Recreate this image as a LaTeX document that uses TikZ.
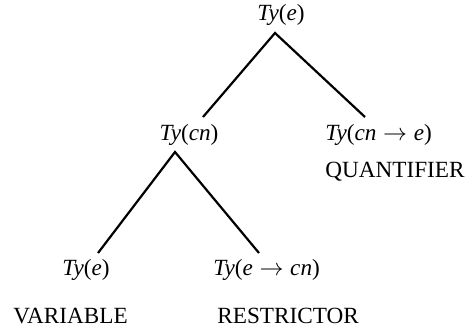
\documentclass[tikz,border=0pt]{standalone}
\usepackage{fontspec}
\setmainfont{Liberation Serif}
\usetikzlibrary{positioning}
\newcommand{\tyof}[1]{\textit{Ty}(#1)}

\begin{document}
\begin{tikzpicture}[
        x=0.5pt, y=-0.5pt,
        tipo/.style={
            inner sep=0pt,
            font=\fontsize{11.6}{14}\selectfont
        },
        papel/.style={
            inner sep=0pt,
            anchor=west,
            font=\fontsize{11.6}{14}\selectfont
        },
        rama/.style={line width=1.1pt, draw=black}
    ]
        \useasboundingbox (0,0) rectangle (471,327);

        % nodos del arbol
        \node[tipo] (raiz) at (281,15) {\tyof{\textit{e}}};
        \node[tipo] (cn) at (189,135) {\tyof{\textit{cn}}};
        \node[tipo, anchor=west] (cuant) at (325,135) {\tyof{$\textit{cn}\rightarrow\textit{e}$}};
        \node[tipo] (var) at (86,270) {\tyof{\textit{e}}};
        \node[tipo, anchor=west] (restr) at (213,270) {\tyof{$\textit{e}\rightarrow\textit{cn}$}};

        % etiquetas
        \node[papel] (cuantL) at (325,172) {QUANTIFIER};
        \node[papel] (varL) at (13,316) {VARIABLE};
        \node[papel] (restrL) at (217,316) {RESTRICTOR};

        % puntos de union
        \coordinate (raizB) at (275,33);
        \coordinate (cnT) at (203,117);
        \coordinate (cnB) at (175,152);
        \coordinate (cuantT) at (365,117);
        \coordinate (varT) at (98,253);
        \coordinate (restrT) at (259,253);

        \draw[rama] (cnT) -- (raizB) -- (cuantT);
        \draw[rama] (varT) -- (cnB) -- (restrT);
    \end{tikzpicture}
\end{document}
